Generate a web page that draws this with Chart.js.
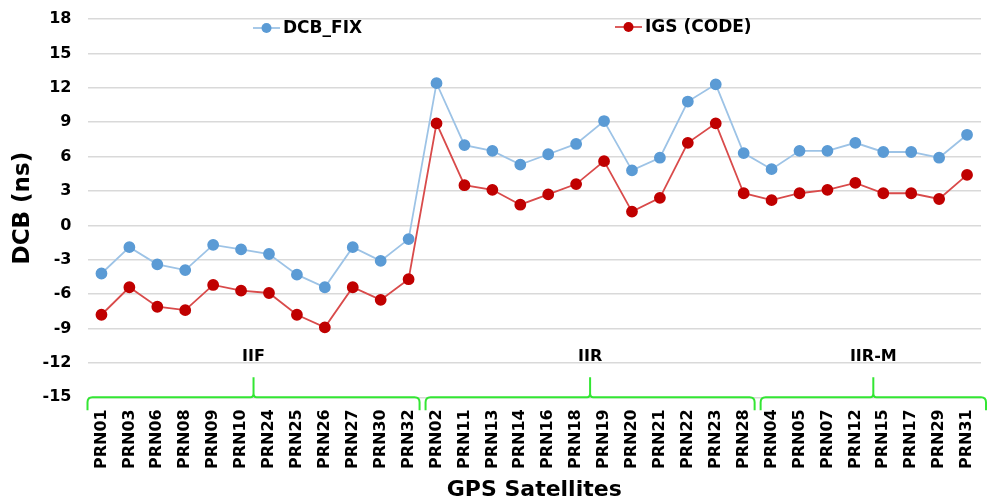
<!DOCTYPE html>
<html>
<head>
<meta charset="utf-8">
<script src="https://cdn.jsdelivr.net/npm/chart.js@4.4.1/dist/chart.umd.min.js"></script>
<style>
  html, body { margin: 0; padding: 0; background: #ffffff; }
  #wrap { width: 989px; height: 503px; position: relative; }
</style>
</head>
<body>
<div id="wrap"><canvas id="c" width="989" height="503"></canvas></div>
<script>
// ---- data ----
const categories = ["PRN01","PRN03","PRN06","PRN08","PRN09","PRN10","PRN24","PRN25","PRN26","PRN27","PRN30","PRN32",
                    "PRN02","PRN11","PRN13","PRN14","PRN16","PRN18","PRN19","PRN20","PRN21","PRN22","PRN23","PRN28",
                    "PRN04","PRN05","PRN07","PRN12","PRN15","PRN17","PRN29","PRN31"];
const dcbFix = [-4.2,-1.9,-3.4,-3.9,-1.7,-2.1,-2.5,-4.3,-5.4,-1.9,-3.1,-1.2,
                12.4,7.0,6.5,5.3,6.2,7.1,9.1,4.8,5.9,10.8,12.3,6.3,
                4.9,6.5,6.5,7.2,6.4,6.4,5.9,7.9];
const igsCode = [-7.8,-5.4,-7.1,-7.4,-5.2,-5.7,-5.9,-7.8,-8.9,-5.4,-6.5,-4.7,
                 8.9,3.5,3.1,1.8,2.7,3.6,5.6,1.2,2.4,7.2,8.9,2.8,
                 2.2,2.8,3.1,3.7,2.8,2.8,2.3,4.4];
const seriesNames = ["DCB_FIX","IGS (CODE)"];
const groupNames = ["IIF","IIR","IIR-M"];
const groupFirst = [0,12,24];
const groupLast = [11,23,31];
const yMin = -15, yMax = 18, yStep = 3;

const FONT = "'DejaVu Sans', sans-serif";

// custom legend (line + marker, placed inside plot)
const legendPlugin = {
  id: 'xlLegend',
  afterDatasetsDraw(chart) {
    const ctx = chart.ctx;
    const pos = [{x: 253, y: 28}, {x: 615, y: 27}];
    chart.data.datasets.forEach((ds, i) => {
      const p = pos[i];
      ctx.save();
      ctx.strokeStyle = ds.borderColor;
      ctx.lineWidth = 1.8;
      ctx.beginPath(); ctx.moveTo(p.x, p.y); ctx.lineTo(p.x + 27, p.y); ctx.stroke();
      ctx.fillStyle = ds.pointBackgroundColor;
      ctx.beginPath(); ctx.arc(p.x + 13.5, p.y, 5, 0, Math.PI * 2); ctx.fill();
      ctx.fillStyle = '#000';
      ctx.font = "bold 17px " + FONT;
      ctx.textBaseline = 'middle';
      ctx.textAlign = 'left';
      ctx.fillText(ds.label, p.x + 30, p.y + 1);
      ctx.restore();
    });
  }
};

// green braces with group names
const bracePlugin = {
  id: 'braces',
  afterDraw(chart) {
    const ctx = chart.ctx;
    const xs = chart.scales.x, ys = chart.scales.y;
    const half = (xs.getPixelForValue(1) - xs.getPixelForValue(0)) / 2;
    const yb = ys.getPixelForValue(yMin);
    ctx.save();
    ctx.strokeStyle = '#33E633';
    ctx.lineWidth = 2;
    groupNames.forEach((name, g) => {
      let x0 = xs.getPixelForValue(groupFirst[g]) - half + 3;
      let x1 = xs.getPixelForValue(groupLast[g]) + half - 3;
      if (g === 0) x0 -= 3;
      if (g === groupNames.length - 1) x1 += 8;
      const xm = (x0 + x1) / 2;
      const r = 5;
      ctx.beginPath();
      ctx.moveTo(x0, yb + 13);
      ctx.lineTo(x0, yb + r);
      ctx.quadraticCurveTo(x0, yb, x0 + r, yb);
      ctx.lineTo(xm - 3, yb);
      ctx.quadraticCurveTo(xm, yb, xm, yb - 4);
      ctx.lineTo(xm, yb - 20);
      ctx.moveTo(xm, yb - 4);
      ctx.quadraticCurveTo(xm, yb, xm + 3, yb);
      ctx.lineTo(x1 - r, yb);
      ctx.quadraticCurveTo(x1, yb, x1, yb + r);
      ctx.lineTo(x1, yb + 13);
      ctx.stroke();
      ctx.fillStyle = '#000';
      ctx.font = "bold 16px " + FONT;
      ctx.textAlign = 'center';
      ctx.textBaseline = 'middle';
      ctx.fillText(name, xm, ys.getPixelForValue(-11.5));
    });
    ctx.restore();
  }
};

new Chart(document.getElementById('c'), {
  type: 'line',
  data: {
    labels: categories,
    datasets: [
      {
        label: seriesNames[0],
        data: dcbFix,
        borderColor: '#9DC3E6',
        backgroundColor: '#5B9BD5',
        pointBackgroundColor: '#5B9BD5',
        pointBorderColor: '#5B9BD5',
        borderWidth: 1.8,
        pointRadius: 5,
        pointHoverRadius: 5,
        tension: 0
      },
      {
        label: seriesNames[1],
        data: igsCode,
        borderColor: '#D94B4B',
        backgroundColor: '#C00000',
        pointBackgroundColor: '#C00000',
        pointBorderColor: '#C00000',
        borderWidth: 1.8,
        pointRadius: 5,
        pointHoverRadius: 5,
        tension: 0
      }
    ]
  },
  options: {
    responsive: false,
    animation: false,
    devicePixelRatio: 1,
    layout: { padding: { left: 5, right: 8, top: 19, bottom: 0 } },
    plugins: {
      legend: { display: false },
      tooltip: { enabled: false },
      title: { display: false }
    },
    scales: {
      x: {
        offset: true,
        grid: { display: false, drawTicks: false },
        border: { display: false },
        afterFit(s) { s.height = 105.7; s.paddingLeft = 0; s.paddingRight = 0; },
        ticks: {
          autoSkip: false,
          maxRotation: 90,
          minRotation: 90,
          padding: 12,
          color: '#000',
          font: { family: FONT, size: 16, weight: 'bold' }
        },
        title: {
          display: true,
          text: 'GPS Satellites',
          color: '#000',
          font: { family: FONT, size: 22, weight: 'bold' },
          padding: { top: 7, bottom: 0 }
        }
      },
      y: {
        min: yMin,
        max: yMax,
        afterFit(s) { s.width = 82.5; s.paddingTop = 0; s.paddingBottom = 0; },
        grid: { color: '#D9D9D9', lineWidth: 1.5, drawTicks: false },
        border: { display: false },
        ticks: {
          stepSize: yStep,
          padding: 16,
          color: '#000',
          font: { family: FONT, size: 16, weight: 'bold' }
        },
        title: {
          display: true,
          text: 'DCB (ns)',
          color: '#000',
          font: { family: FONT, size: 23, weight: 'bold' },
          padding: { top: 4, bottom: 4 }
        }
      }
    }
  },
  plugins: [legendPlugin, bracePlugin]
});
</script>
</body>
</html>
